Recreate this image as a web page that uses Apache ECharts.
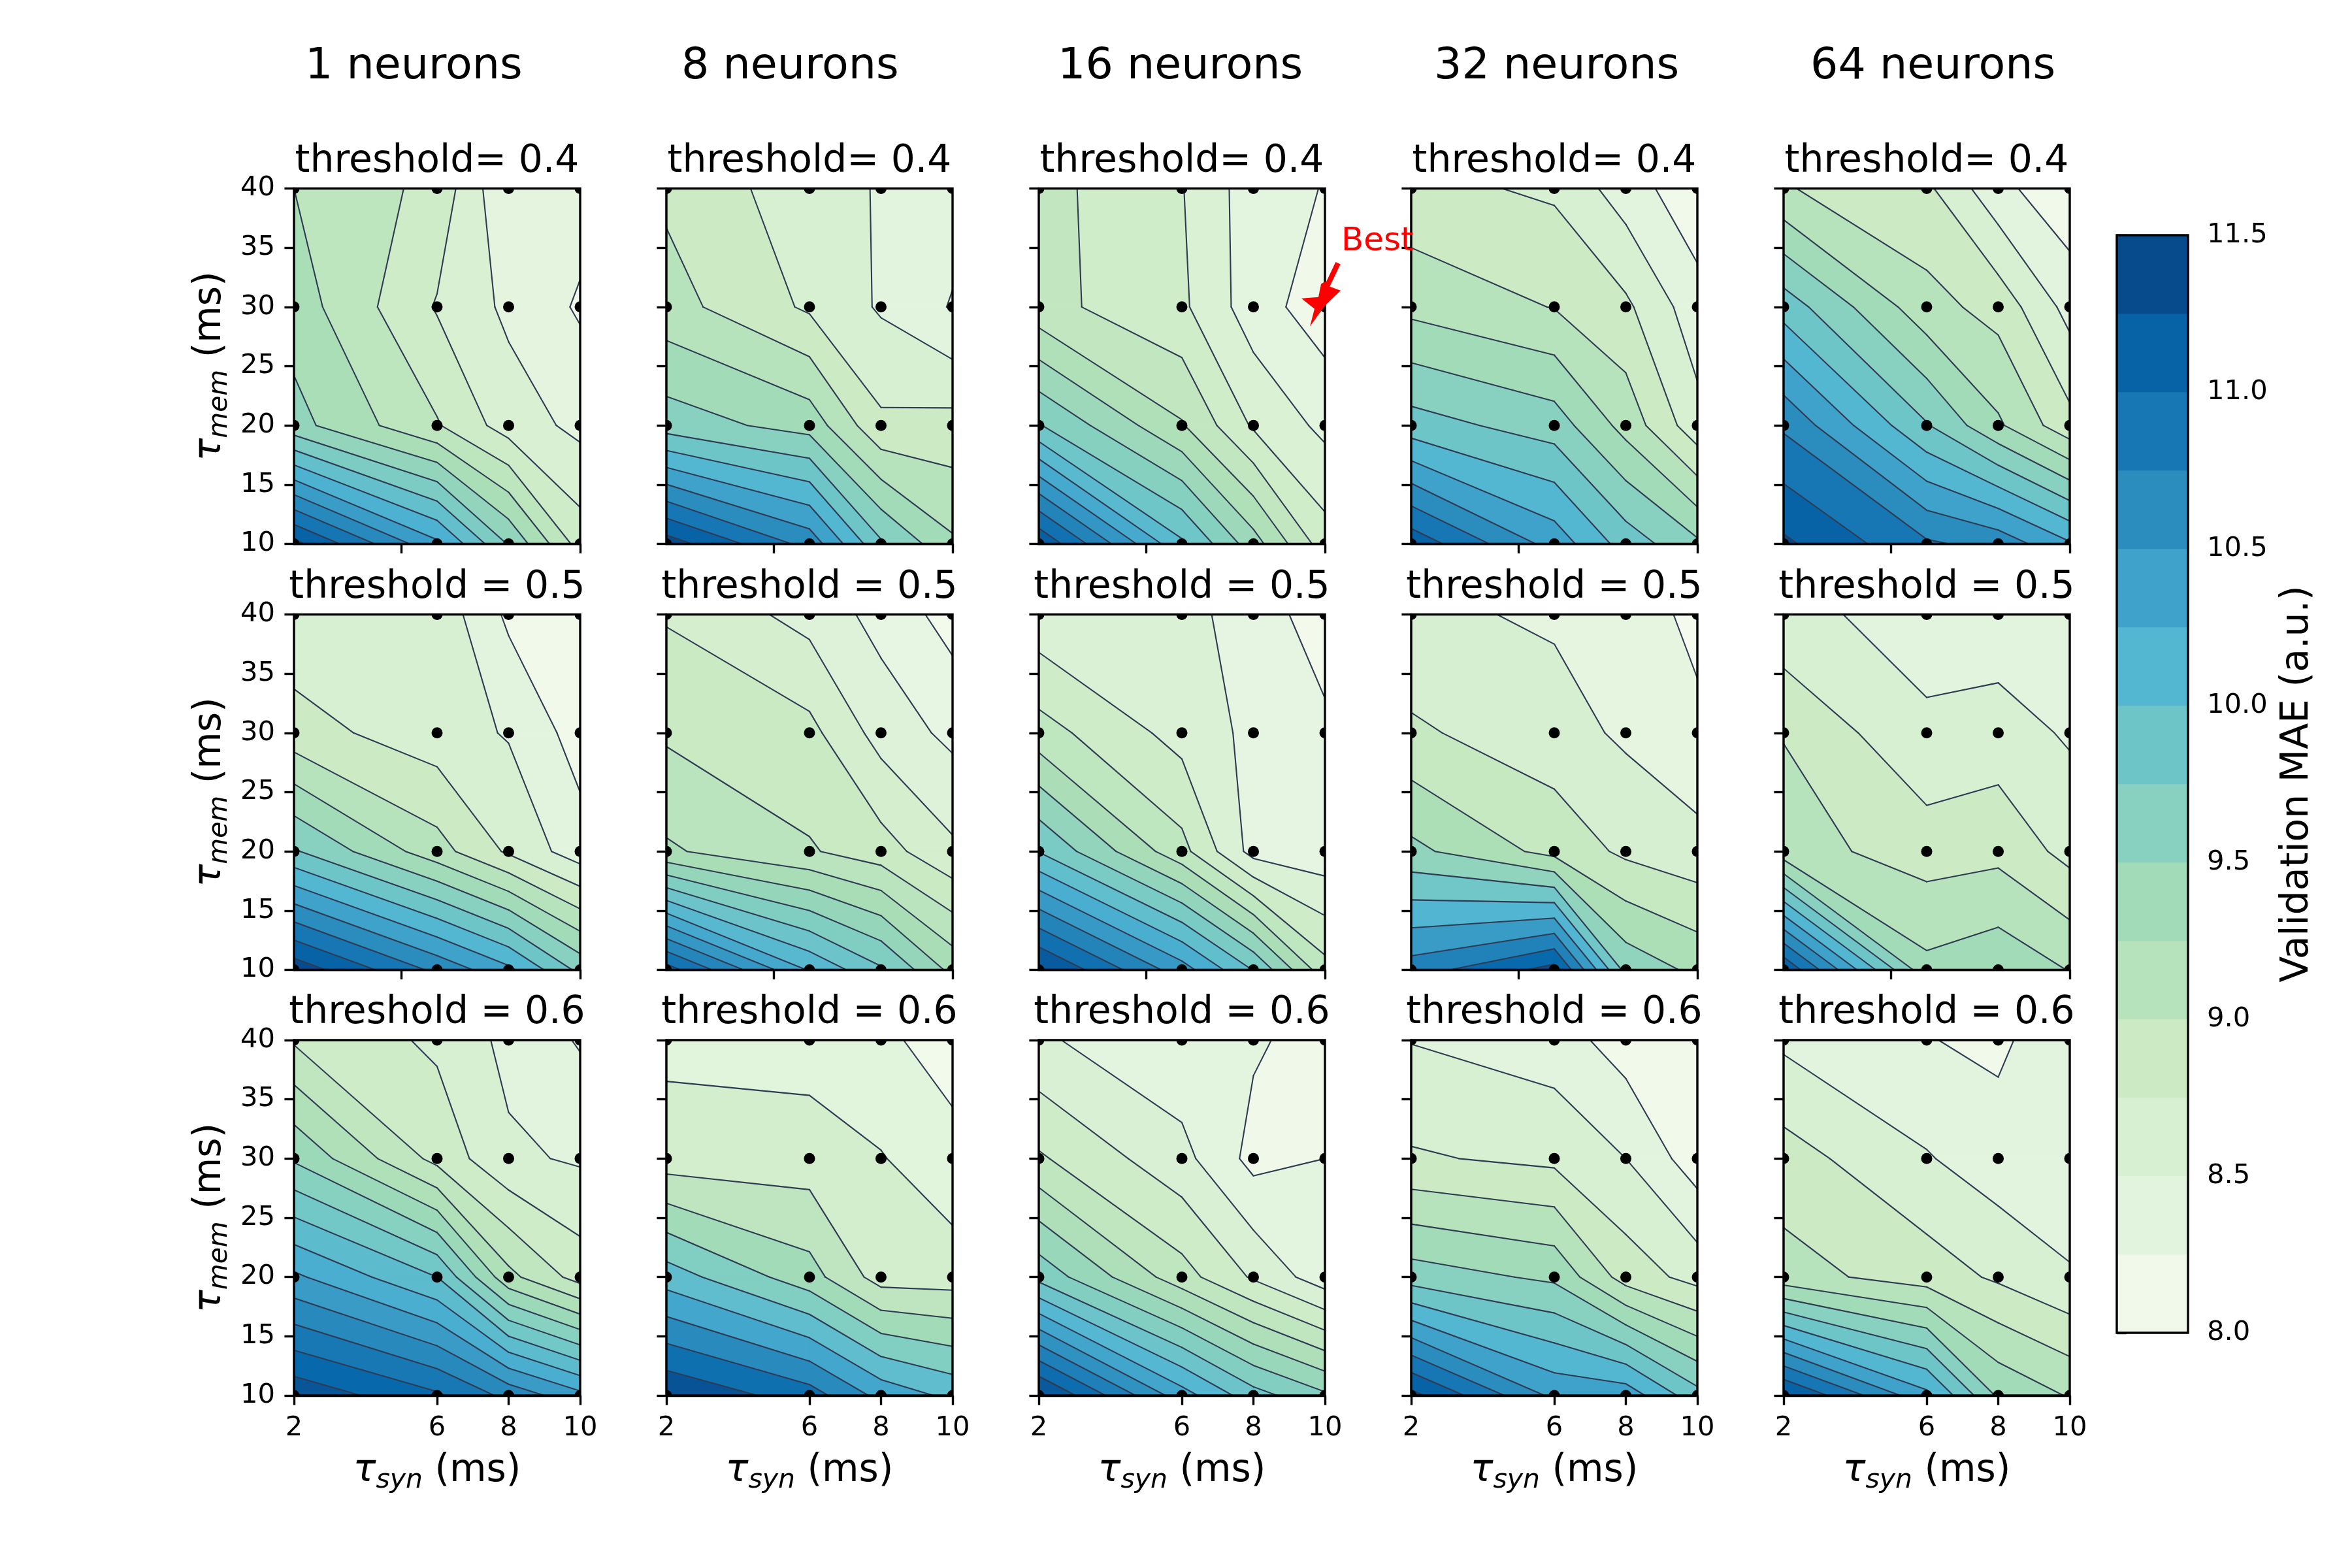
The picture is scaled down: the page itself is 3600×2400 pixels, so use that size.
<!DOCTYPE html>
<html>
<head>
<meta charset="utf-8">
<title>Validation MAE</title>
<script src="https://cdn.jsdelivr.net/npm/echarts@6/dist/echarts.min.js"></script>
<style>
  html, body { margin: 0; padding: 0; background: #fff; }
  #chart { width: 3600px; height: 2400px; }
</style>
</head>
<body>
<div id="chart"></div>
<script>
// grid of the parameter sweep, rows of every table run from tau_mem 40 down to 10
const tauSyn = [2, 6, 8, 10];
const tauMem = [40, 30, 20, 10];

const neurons = ['1 neurons', '8 neurons', '16 neurons', '32 neurons', '64 neurons'];
const thresholdTitles = ['threshold= 0.4', 'threshold = 0.5', 'threshold = 0.6'];

const xTicksPlain = [5, 10];
const xTicksLabelled = [2, 6, 8, 10];

// validation MAE
const mae04n1 = [[9.17, 8.87, 8.26, 8.35], [9.29, 8.69, 8.43, 8.22], [9.48, 8.96, 8.60, 8.42], [11.31, 10.37, 9.61, 8.84]];
const mae04n8 = [[8.95, 8.61, 8.48, 8.37], [9.10, 8.71, 8.47, 8.23], [9.63, 9.40, 8.80, 8.84], [11.38, 10.66, 9.79, 9.29]];
const mae04n16 = [[8.97, 8.69, 8.35, 8.24], [8.97, 8.72, 8.35, 8.13], [9.77, 9.13, 8.65, 8.41], [11.24, 10.01, 9.42, 8.78]];
const mae04n32 = [[8.82, 8.71, 8.37, 8.08], [9.18, 8.99, 8.80, 8.35], [9.86, 9.63, 9.16, 8.59], [11.17, 10.40, 9.89, 9.55]];
const mae04n64 = [[9.02, 8.80, 8.32, 8.07], [9.89, 9.09, 8.91, 8.41], [10.71, 9.77, 9.29, 8.83], [11.30, 10.79, 10.66, 10.28]];

const mae05n1 = [[8.58, 8.67, 8.20, 8.10], [8.85, 8.61, 8.48, 8.14], [9.78, 9.10, 8.71, 8.36], [11.41, 10.69, 10.31, 9.68]];
const mae05n8 = [[8.78, 8.53, 8.33, 8.12], [8.97, 8.86, 8.52, 8.35], [9.23, 9.02, 8.89, 8.64], [11.09, 10.18, 9.83, 9.34]];
const mae05n16 = [[8.52, 8.49, 8.37, 8.03], [9.02, 8.59, 8.38, 8.27], [9.87, 9.00, 8.35, 8.29], [11.37, 10.47, 9.87, 9.01]];
const mae05n32 = [[8.56, 8.46, 8.34, 8.13], [8.85, 8.62, 8.45, 8.26], [9.48, 9.00, 8.74, 8.61], [10.75, 11.31, 9.60, 9.33]];
const mae05n64 = [[8.55, 8.43, 8.35, 8.35], [8.99, 8.53, 8.61, 8.47], [9.10, 8.89, 8.93, 8.67], [11.23, 9.32, 9.43, 9.24]];

const mae06n1 = [[8.89, 8.67, 8.45, 8.28], [9.50, 8.85, 8.54, 8.48], [10.39, 9.94, 9.18, 8.83], [11.32, 11.00, 10.70, 10.41]];
const mae06n8 = [[8.49, 8.43, 8.31, 8.12], [8.72, 8.73, 8.59, 8.35], [10.02, 9.34, 8.75, 8.74], [11.43, 10.96, 10.39, 10.09]];
const mae06n16 = [[8.50, 8.31, 8.28, 8.16], [8.94, 8.54, 8.18, 8.25], [9.72, 9.00, 8.66, 8.34], [11.38, 10.33, 9.88, 9.61]];
const mae06n32 = [[8.49, 8.37, 8.13, 8.01], [8.78, 8.69, 8.50, 8.11], [9.63, 9.45, 8.89, 8.66], [11.33, 10.44, 10.40, 9.84]];
const mae06n64 = [[8.45, 8.26, 8.20, 8.43], [8.86, 8.52, 8.36, 8.29], [9.10, 8.88, 8.71, 8.53], [11.30, 10.32, 9.46, 9.23]];

const panelValues = [
  [mae04n1, mae04n8, mae04n16, mae04n32, mae04n64],
  [mae05n1, mae05n8, mae05n16, mae05n32, mae05n64],
  [mae06n1, mae06n8, mae06n16, mae06n32, mae06n64]
];

// every panel picks its own contour levels
const levelStart = [
  [8.25, 8.25, 8.25, 8.25, 8.25],
  [8.25, 8.2, 8.2, 8.2, 8.5],
  [8.3, 8.25, 8.25, 8.25, 8.25]
];
const levelStep = [
  [0.23, 0.25, 0.215, 0.25, 0.25],
  [0.25, 0.2, 0.24, 0.3, 0.25],
  [0.205, 0.32, 0.22, 0.25, 0.25]
];

const colorbarLevels = [8, 8.25, 8.5, 8.75, 9, 9.25, 9.5, 9.75, 10, 10.25, 10.5, 10.75, 11, 11.25, 11.5];
const gnBu = ['#f7fcf0', '#e0f3db', '#ccebc5', '#a8ddb5', '#7bccc4', '#4eb3d3', '#2b8cbe', '#0868ac', '#084081'];
const bestPoint = [10, 30];

const FONT = 'DejaVu Sans';
const LINE_COLOR = '#2f3b52';
const panelLeft = [450, 1020, 1590, 2160, 2730];
const panelTop = [288.5, 940.5, 1592];
const panelWidth = 438;
const panelHeight = 544;
const columnTitleLeft = [467, 1043, 1619, 2195, 2771];

const hexToRgb = hex => [1, 3, 5].map(i => parseInt(hex.substr(i, 2), 16));

// same lookup as the GnBu colormap, the scale runs from 8 to 11.5
const bandColor = mid => {
  const t = Math.min(1, Math.max(0, (mid - 8) / 3.5)) * (gnBu.length - 1);
  const i = Math.min(gnBu.length - 2, Math.floor(t));
  const a = hexToRgb(gnBu[i]);
  const b = hexToRgb(gnBu[i + 1]);
  const c = a.map((v, n) => Math.round(v + (b[n] - v) * (t - i)));
  return `rgb(${c[0]},${c[1]},${c[2]})`;
};

// cut one grid cell at a level, gives the polygons above it and the contour segments
const cutCell = (pts, vals, level) => {
  const crossing = [null, null, null, null];
  for (let e = 0; e < 4; e++) {
    const n = (e + 1) % 4;
    if ((vals[e] >= level) !== (vals[n] >= level)) {
      const f = (level - vals[e]) / (vals[n] - vals[e]);
      crossing[e] = [pts[e][0] + (pts[n][0] - pts[e][0]) * f, pts[e][1] + (pts[n][1] - pts[e][1]) * f];
    }
  }
  const count = crossing.filter(Boolean).length;
  if (!count) {
    return { polys: vals[0] >= level ? [pts] : [], segs: [] };
  }
  if (count === 2) {
    const poly = [];
    const ends = [];
    for (let e = 0; e < 4; e++) {
      if (vals[e] >= level) poly.push(pts[e]);
      if (crossing[e]) {
        poly.push(crossing[e]);
        ends.push(crossing[e]);
      }
    }
    return { polys: [poly], segs: [ends] };
  }
  // saddle, the cell mean decides how the corners connect
  const joined = (vals[0] + vals[1] + vals[2] + vals[3]) / 4 >= level;
  const polys = [];
  const segs = [];
  const hexagon = [];
  for (let e = 0; e < 4; e++) {
    const before = crossing[(e + 3) % 4];
    const high = vals[e] >= level;
    if (joined) {
      if (high) hexagon.push(pts[e]);
      hexagon.push(crossing[e]);
      if (!high) segs.push([before, crossing[e]]);
    } else if (high) {
      polys.push([before, pts[e], crossing[e]]);
      segs.push([before, crossing[e]]);
    }
  }
  if (joined) polys.push(hexagon);
  return { polys, segs };
};

const contourRenderer = (z, start, step) => (params, api) => {
  const flat = [].concat(...z);
  const max = Math.max(...flat);
  const pos = tauMem.map(y => tauSyn.map(x => api.coord([x, y])));
  const children = [];
  const baseFill = bandColor(start - step / 2);
  children.push({
    type: 'polygon',
    shape: { points: [pos[0][0], pos[0][3], pos[3][3], pos[3][0]] },
    style: { fill: baseFill }
  });
  const lines = [];
  for (let k = 0; start + k * step < max; k++) {
    const level = start + k * step;
    const fill = bandColor(level + step / 2);
    for (let r = 0; r < 3; r++) {
      for (let c = 0; c < 3; c++) {
        const cut = cutCell(
          [pos[r][c], pos[r][c + 1], pos[r + 1][c + 1], pos[r + 1][c]],
          [z[r][c], z[r][c + 1], z[r + 1][c + 1], z[r + 1][c]],
          level
        );
        cut.polys.forEach(points => {
          children.push({ type: 'polygon', shape: { points }, style: { fill, stroke: fill, lineWidth: 1 } });
        });
        cut.segs.forEach(s => lines.push(s));
      }
    }
  }
  lines.forEach(s => {
    children.push({
      type: 'line',
      shape: { x1: s[0][0], y1: s[0][1], x2: s[1][0], y2: s[1][1] },
      style: { stroke: LINE_COLOR, lineWidth: 2.1, lineCap: 'round' }
    });
  });
  // the sampled runs, these get cut by the panel edge like the contours
  pos.forEach(row => row.forEach(p => {
    children.push({ type: 'circle', shape: { cx: p[0], cy: p[1], r: 8.5 }, style: { fill: '#000' } });
  }));
  return { type: 'group', children };
};

// the panel box has to stay on top of the dots
const frameRenderer = (params, api) => {
  const a = api.coord([tauSyn[0], tauMem[0]]);
  const b = api.coord([tauSyn[3], tauMem[3]]);
  return {
    type: 'rect',
    shape: { x: a[0], y: a[1], width: b[0] - a[0], height: b[1] - a[1] },
    style: { fill: 'none', stroke: '#000', lineWidth: 3.4 }
  };
};

const bestRenderer = (params, api) => {
  const p = api.coord(bestPoint);
  const star = [[-36, -13], [-10, -15], [-6, -35], [0, -39], [5, -32], [24, -25], [0, -2], [-23, 30], [-16, 3]];
  return {
    type: 'group',
    children: [
      {
        type: 'line',
        shape: { x1: p[0] + 20, y1: p[1] - 67, x2: p[0], y2: p[1] - 25 },
        style: { stroke: '#ff0000', lineWidth: 8 }
      },
      {
        type: 'polygon',
        shape: { points: star.map(o => [p[0] + o[0], p[1] + o[1]]) },
        style: { fill: '#ff0000' }
      }
    ]
  };
};

const colorbarRenderer = (params, api) => {
  const lo = api.value(0);
  const hi = api.value(1);
  const a = api.coord([0, hi]);
  const b = api.coord([1, lo]);
  const fill = bandColor((lo + hi) / 2);
  return {
    type: 'rect',
    shape: { x: a[0], y: a[1], width: b[0] - a[0], height: b[1] - a[1] },
    style: { fill, stroke: fill, lineWidth: 0.5 }
  };
};

const axisRich = {
  t: { fontFamily: FONT, fontSize: 58, fontStyle: 'italic', color: '#000', lineHeight: 70 },
  s: { fontFamily: FONT, fontSize: 41, fontStyle: 'italic', color: '#000', lineHeight: 70, verticalAlign: 'bottom' },
  n: { fontFamily: FONT, fontSize: 58, color: '#000', lineHeight: 70 }
};

const labelStyle = { fontFamily: FONT, fontSize: 41.67, color: '#000' };
const axisLine = { show: true, lineStyle: { color: '#000', width: 3.4 } };
const axisTickStyle = { show: true, length: 14.6, lineStyle: { color: '#000', width: 3.4 } };

const grids = [];
const xAxes = [];
const yAxes = [];
const series = [];
const titles = [];

const addTitle = (text, left, top, fontSize, align, color) => {
  titles.push({
    text, left, top, padding: 0, textAlign: align,
    textStyle: { fontFamily: FONT, fontSize, fontWeight: 'normal', color: color || '#000' }
  });
};

neurons.forEach((name, col) => {
  addTitle(name, columnTitleLeft[col], 69, 66.67, 'left');
});

thresholdTitles.forEach((title, row) => {
  neurons.forEach((name, col) => {
    const index = grids.length;
    const isBottom = row === 2;
    const isLeft = col === 0;
    grids.push({ left: panelLeft[col], top: panelTop[row], width: panelWidth, height: panelHeight, containLabel: false });
    xAxes.push({
      gridIndex: index, type: 'value', min: 2, max: 10,
      splitLine: { show: false },
      axisLine,
      axisTick: Object.assign({}, axisTickStyle, { customValues: isBottom ? xTicksLabelled : xTicksPlain }),
      axisLabel: Object.assign({}, labelStyle, { show: isBottom, margin: 29, customValues: xTicksLabelled }),
      name: isBottom ? '{t|τ}{s|syn}{n| (ms)}' : '',
      nameLocation: 'middle', nameGap: 81,
      nameTextStyle: { rich: axisRich }
    });
    yAxes.push({
      gridIndex: index, type: 'value', min: 10, max: 40, interval: 5,
      splitLine: { show: false },
      axisLine,
      axisTick: axisTickStyle,
      axisLabel: Object.assign({}, labelStyle, { show: isLeft, margin: 29, padding: [14, 0, 0, 0] }),
      name: isLeft ? '{t|τ}{s|mem}{n| (ms)}' : '',
      nameLocation: 'middle', nameRotate: 90, nameGap: 93,
      nameTextStyle: { rich: axisRich }
    });
    const z = panelValues[row][col];
    series.push({
      type: 'custom', xAxisIndex: index, yAxisIndex: index, coordinateSystem: 'cartesian2d',
      renderItem: contourRenderer(z, levelStart[row][col], levelStep[row][col]),
      data: [[tauSyn[0], tauMem[0]]], clip: true, silent: true, z: 2
    });
    series.push({
      type: 'custom', xAxisIndex: index, yAxisIndex: index, coordinateSystem: 'cartesian2d',
      renderItem: frameRenderer, data: [[tauSyn[0], tauMem[0]]], clip: false, silent: true, z: 4
    });
    addTitle(title, panelLeft[col] + panelWidth / 2, panelTop[row] - 70, 58.33, 'center');
  });
});

// the star and arrow on the best run, in the 16 neurons panel
series.push({
  type: 'custom', xAxisIndex: 2, yAxisIndex: 2, coordinateSystem: 'cartesian2d',
  renderItem: bestRenderer, data: [bestPoint], clip: false, silent: true, z: 6
});
addTitle('Best', 2053, 345, 50, 'left', '#ff0000');

// colorbar
const cbIndex = grids.length;
grids.push({ left: 3240, top: 360, width: 109, height: 1680 });
xAxes.push({ gridIndex: cbIndex, type: 'value', min: 0, max: 1, show: false });
yAxes.push({
  gridIndex: cbIndex, type: 'value', position: 'right', min: 8, max: 11.5, interval: 0.5,
  splitLine: { show: false },
  axisLine,
  axisTick: axisTickStyle,
  axisLabel: Object.assign({}, labelStyle, { margin: 29, padding: [14, 0, 0, 0], formatter: v => v.toFixed(1) }),
  name: 'Validation MAE (a.u.)', nameLocation: 'middle', nameRotate: 90, nameGap: 139,
  nameTextStyle: { fontFamily: FONT, fontSize: 58.33, color: '#000' }
});
series.push({
  type: 'custom', xAxisIndex: cbIndex, yAxisIndex: cbIndex, coordinateSystem: 'cartesian2d',
  renderItem: colorbarRenderer, silent: true, z: 2,
  data: colorbarLevels.slice(0, -1).map((v, i) => [v, colorbarLevels[i + 1]]),
  encode: { x: [], y: [0, 1] }
});
series.push({
  type: 'custom', xAxisIndex: cbIndex, yAxisIndex: cbIndex, coordinateSystem: 'cartesian2d',
  silent: true, z: 4, clip: false, data: [[0, 8]],
  renderItem: (params, api) => {
    const a = api.coord([0, 11.5]);
    const b = api.coord([1, 8]);
    return {
      type: 'rect',
      shape: { x: a[0], y: a[1], width: b[0] - a[0], height: b[1] - a[1] },
      style: { fill: 'none', stroke: '#000', lineWidth: 3.4 }
    };
  }
});

const chart = echarts.init(document.getElementById('chart'), null, { renderer: 'canvas' });
chart.setOption({
  animation: false,
  backgroundColor: '#fff',
  title: titles,
  grid: grids,
  xAxis: xAxes,
  yAxis: yAxes,
  series: series
});
</script>
</body>
</html>
